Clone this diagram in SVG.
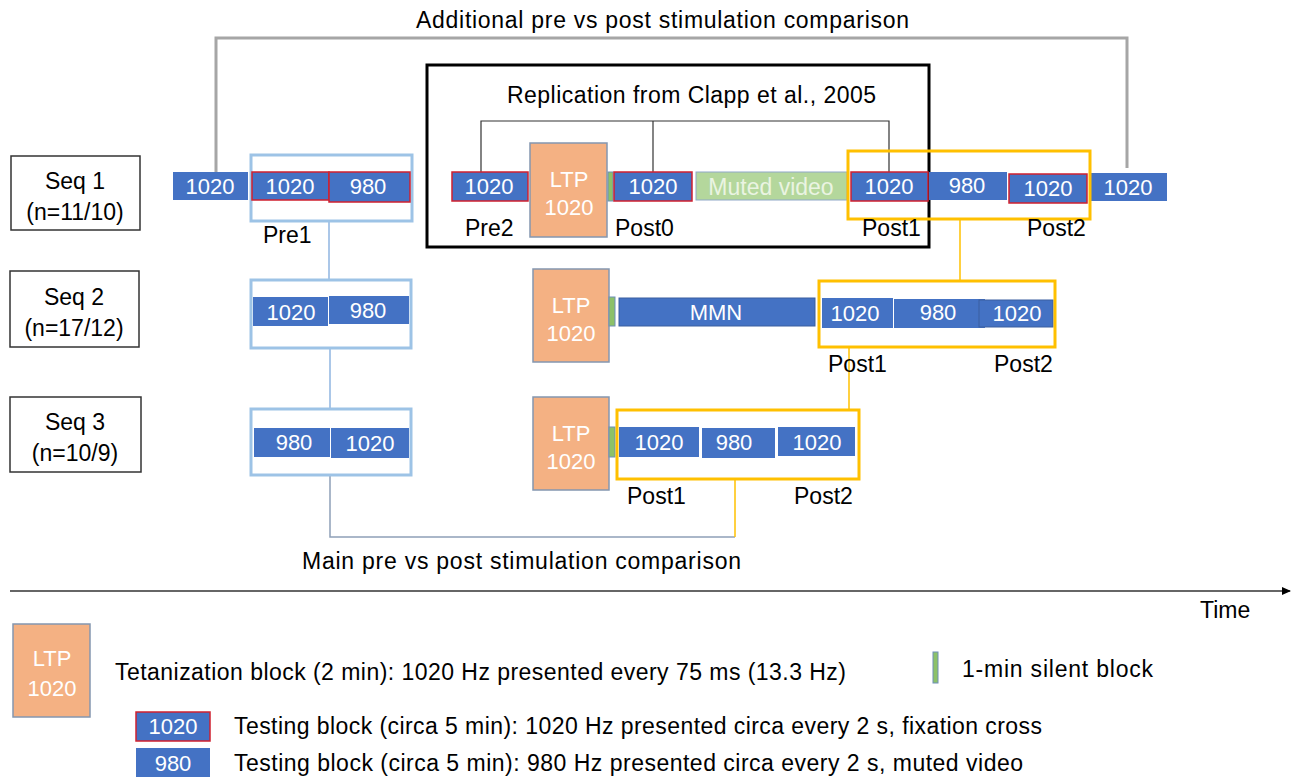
<svg xmlns="http://www.w3.org/2000/svg" width="1293" height="777" viewBox="0 0 1293 777">
<defs>
<style>
text{font-family:"Liberation Sans",Arial,sans-serif;}
.lbl{font-size:23px;fill:#000;}
.bt{font-size:22px;fill:#fff;text-anchor:middle;}
.blk{fill:#4472C4;}
.red{fill:#4472C4;stroke:#D0202F;stroke-width:1.5;}
.ltp{fill:#F4B183;stroke:#8497B0;stroke-width:1.5;}
.sil{fill:#8CC168;stroke:#6E8FB8;stroke-width:1;}
.pre{fill:none;stroke:#9DC3E6;stroke-width:3;}
.post{fill:none;stroke:#FFC000;stroke-width:3;}
.seq{fill:#fff;stroke:#333;stroke-width:1.5;}
</style>
<marker id="arr" markerWidth="10" markerHeight="10" refX="8" refY="5" orient="auto" markerUnits="userSpaceOnUse">
<path d="M0,1 L9,5 L0,9 z" fill="#000"/>
</marker>
</defs>
<rect width="1293" height="777" fill="#fff"/>

<g id="connectors">
<polyline points="216,172 216,38 1127,38 1127,168" fill="none" stroke="#A6A6A6" stroke-width="3"/>
<polyline points="481,172 481,121 889,121 889,172" fill="none" stroke="#333" stroke-width="1.2"/>
<line x1="653" y1="121" x2="653" y2="172" stroke="#333" stroke-width="1.2"/>
<line x1="329" y1="221" x2="329" y2="280" stroke="#8FB4E0" stroke-width="1.5"/>
<line x1="330" y1="348" x2="330" y2="409" stroke="#8FB4E0" stroke-width="1.5"/>
<polyline points="330,475 330,537 735,537" fill="none" stroke="#8FA0B8" stroke-width="1.5"/>
<line x1="735" y1="537" x2="735" y2="479" stroke="#FFC000" stroke-width="1.5"/>
<line x1="960" y1="219" x2="960" y2="281" stroke="#FFC000" stroke-width="1.5"/>
<line x1="849" y1="347" x2="849" y2="410" stroke="#FFC000" stroke-width="1.5"/>
<line x1="10" y1="591" x2="1290" y2="591" stroke="#333" stroke-width="1.5" marker-end="url(#arr)"/>
</g>

<text class="lbl" x="416" y="28" textLength="493">Additional pre vs post stimulation comparison</text>

<g id="replication">
<rect x="427" y="65" width="502" height="182" fill="none" stroke="#000" stroke-width="3"/>
<text class="lbl" x="507" y="103" textLength="369">Replication from Clapp et al., 2005</text>
</g>

<g id="seq1-label"><rect class="seq" x="11" y="156" width="129" height="74"/><text class="lbl" x="75" y="189" text-anchor="middle">Seq 1</text><text class="lbl" x="75" y="220" text-anchor="middle">(n=11/10)</text></g>
<g id="seq2-label"><rect class="seq" x="10" y="271" width="129" height="76"/><text class="lbl" x="74" y="305" text-anchor="middle">Seq 2</text><text class="lbl" x="74" y="336" text-anchor="middle">(n=17/12)</text></g>
<g id="seq3-label"><rect class="seq" x="10" y="397" width="131" height="75"/><text class="lbl" x="75" y="430" text-anchor="middle">Seq 3</text><text class="lbl" x="75" y="461" text-anchor="middle">(n=10/9)</text></g>

<g id="seq1">
<rect class="blk" x="173" y="172" width="75" height="28"/><text class="bt" x="210" y="194">1020</text>
<rect class="pre" x="251" y="155" width="161" height="66"/>
<rect class="red" x="252" y="172" width="77" height="28"/><text class="bt" x="290" y="194">1020</text>
<rect class="red" x="329" y="172" width="81" height="30"/><text class="bt" x="368" y="194">980</text>
<text class="lbl" x="263" y="243">Pre1</text>
<rect class="red" x="452" y="172" width="76" height="29"/><text class="bt" x="489" y="194">1020</text>
<rect class="ltp" x="530" y="143" width="77" height="94"/><text class="bt" x="569" y="187">LTP</text><text class="bt" x="569" y="215">1020</text>
<rect class="sil" x="608" y="172" width="5" height="29"/>
<rect class="red" x="614" y="172" width="78" height="29"/><text class="bt" x="653" y="194">1020</text>
<rect x="696" y="172" width="151" height="28" fill="#B4D79C" stroke="#8FA8C8" stroke-width="1"/><text class="bt" x="771" y="195" style="fill:#EAF4E2;font-size:23px">Muted video</text>
<rect class="red" x="851" y="172" width="77" height="29"/><text class="bt" x="889" y="194">1020</text>
<rect class="blk" x="929" y="172" width="78" height="28"/><text class="bt" x="967" y="193">980</text>
<rect class="red" x="1009" y="174" width="78" height="29"/><text class="bt" x="1048" y="196">1020</text>
<rect class="blk" x="1090" y="173" width="77" height="28"/><text class="bt" x="1128" y="195">1020</text>
<rect class="post" x="848" y="151" width="242" height="68"/>
<text class="lbl" x="465" y="236">Pre2</text>
<text class="lbl" x="615" y="236">Post0</text>
<text class="lbl" x="862" y="236">Post1</text>
<text class="lbl" x="1027" y="236">Post2</text>
</g>

<g id="seq2">
<rect class="pre" x="251" y="280" width="160" height="68"/>
<rect class="blk" x="253" y="297" width="75" height="29"/><text class="bt" x="291" y="320">1020</text>
<rect class="blk" x="329" y="296" width="80" height="28"/><text class="bt" x="368" y="318">980</text>
<rect class="ltp" x="533" y="269" width="76" height="93"/><text class="bt" x="571" y="313">LTP</text><text class="bt" x="571" y="341">1020</text>
<rect class="sil" x="609" y="297" width="6" height="29"/>
<rect class="blk" x="619" y="298" width="196" height="28" stroke="#3A5F9F" stroke-width="1"/><text class="bt" x="716" y="320">MMN</text>
<rect class="blk" x="822" y="298" width="71" height="30"/><text class="bt" x="855" y="321">1020</text>
<rect class="blk" x="894" y="299" width="91" height="29"/><text class="bt" x="938" y="320">980</text>
<rect class="blk" x="979" y="300" width="74" height="27" stroke="#3A5F9F" stroke-width="1"/><text class="bt" x="1017" y="321">1020</text>
<rect class="post" x="819" y="281" width="236" height="66"/>
<text class="lbl" x="828" y="372">Post1</text>
<text class="lbl" x="994" y="372">Post2</text>
</g>

<g id="seq3">
<rect class="pre" x="251" y="409" width="160" height="66"/>
<rect class="blk" x="254" y="428" width="76" height="29"/><text class="bt" x="294" y="450">980</text>
<rect class="blk" x="331" y="428" width="78" height="30"/><text class="bt" x="370" y="451">1020</text>
<rect class="ltp" x="533" y="397" width="76" height="93"/><text class="bt" x="571" y="441">LTP</text><text class="bt" x="571" y="469">1020</text>
<rect class="sil" x="609" y="427" width="6" height="30"/>
<rect class="blk" x="619" y="427" width="80" height="30"/><text class="bt" x="659" y="450">1020</text>
<rect class="blk" x="702" y="428" width="73" height="30"/><text class="bt" x="734" y="450">980</text>
<rect class="blk" x="778" y="427" width="77" height="29"/><text class="bt" x="817" y="450">1020</text>
<rect class="post" x="617" y="410" width="242" height="69"/>
<text class="lbl" x="627" y="504">Post1</text>
<text class="lbl" x="794" y="504">Post2</text>
</g>

<text class="lbl" x="302" y="569" textLength="439">Main pre vs post stimulation comparison</text>
<text class="lbl" x="1200" y="618">Time</text>

<g id="legend">
<rect class="ltp" x="13" y="624" width="77" height="93"/><text class="bt" x="52" y="666">LTP</text><text class="bt" x="52" y="696">1020</text>
<text class="lbl" x="115" y="680" textLength="731">Tetanization block (2 min): 1020 Hz presented every 75 ms (13.3 Hz)</text>
<rect class="sil" x="933" y="652" width="5" height="31"/>
<text class="lbl" x="962" y="677" textLength="191">1-min silent block</text>
<rect class="red" x="136" y="712" width="74" height="29"/><text class="bt" x="173" y="734">1020</text>
<text class="lbl" x="234" y="734" textLength="808">Testing block (circa 5 min): 1020 Hz presented circa every 2 s, fixation cross</text>
<rect class="blk" x="136" y="748" width="74" height="29"/><text class="bt" x="173" y="771">980</text>
<text class="lbl" x="234" y="771" textLength="789">Testing block (circa 5 min): 980 Hz presented circa every 2 s, muted video</text>
</g>
</svg>
